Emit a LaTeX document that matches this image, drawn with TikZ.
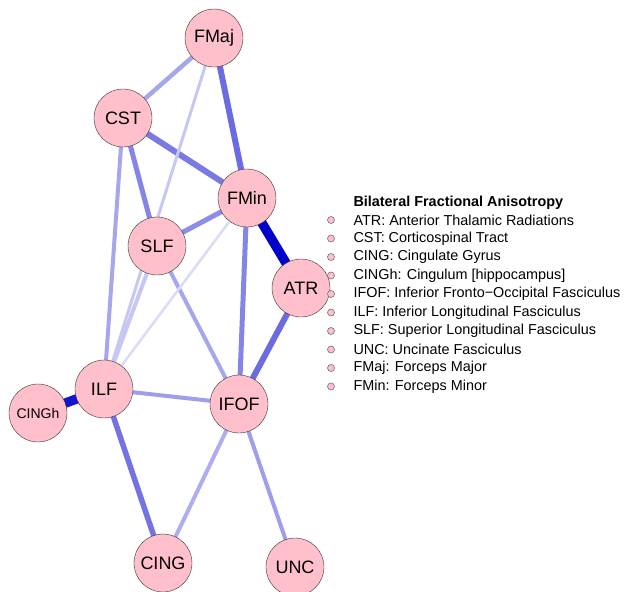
\documentclass[tikz,border=0pt]{standalone}
\usepackage{fontspec}
\setmainfont{Liberation Sans}
\usetikzlibrary{backgrounds}
\definecolor{edgeblue}{RGB}{0,0,205}
\definecolor{tractpink}{RGB}{255,192,203}
\begin{document}
\begin{tikzpicture}[x=1pt,y=-1pt,
    tract/.style={circle,draw=black!80,fill=tractpink,minimum size=58pt,inner sep=0pt,font=\fontsize{18}{20}\selectfont},
    link/.style 2 args={edgeblue!#1!white,line width=#2pt},
    dot/.style={circle,draw=black!55,fill=tractpink,minimum size=7pt,inner sep=0pt,line width=0.6pt}]
    \useasboundingbox (0,0) rectangle (627,592);
    \node[tract] (FMaj) at (214,38) {FMaj};
    \node[tract] (CST) at (123,118) {CST};
    \node[tract] (FMin) at (247,198) {FMin};
    \node[tract] (SLF) at (157,246) {SLF};
    \node[tract] (ATR) at (301,288) {ATR};
    \node[tract] (ILF) at (104,389) {ILF};
    \node[tract,font=\fontsize{14}{16}\selectfont] (CINGh) at (38,413) {CINGh};
    \node[tract] (IFOF) at (239,404) {IFOF};
    \node[tract] (CING) at (163,563) {CING};
    \node[tract] (UNC) at (295,567) {UNC};
    \begin{scope}[on background layer]
        \draw[link={100}{9.5}] (FMin.center) -- (ATR.center);
        \draw[link={92}{9.5}] (ILF.center) -- (CINGh.center);
        \draw[link={58}{6}] (FMaj.center) -- (FMin.center);
        \draw[link={58}{6}] (ATR.center) -- (IFOF.center);
        \draw[link={52}{6}] (CST.center) -- (FMin.center);
        \draw[link={55}{5.5}] (ILF.center) -- (CING.center);
        \draw[link={48}{5}] (FMin.center) -- (IFOF.center);
        \draw[link={48}{5}] (CST.center) -- (SLF.center);
        \draw[link={45}{5}] (FMin.center) -- (SLF.center);
        \draw[link={35}{4.5}] (FMaj.center) -- (CST.center);
        \draw[link={35}{4}] (CST.center) -- (ILF.center);
        \draw[link={35}{4}] (SLF.center) -- (IFOF.center);
        \draw[link={38}{4}] (ILF.center) -- (IFOF.center);
        \draw[link={38}{4}] (IFOF.center) -- (UNC.center);
        \draw[link={32}{4}] (IFOF.center) -- (CING.center);
        \draw[link={22}{4}] (SLF.center) -- (ILF.center);
        \draw[link={22}{3}] (FMaj.center) -- (ILF.center);
        \draw[link={14}{2.5}] (FMin.center) -- (ILF.center);
    \end{scope}
    % legend
    \node[anchor=west,font=\fontsize{14.4}{16}\selectfont\bfseries] (title) at (350,203) {Bilateral Fractional Anisotropy};
    \foreach \name [count=\i] in {ATR: Anterior Thalamic Radiations, CST: Corticospinal Tract,
        CING: Cingulate Gyrus, CINGh: Cingulum [hippocampus],
        IFOF: Inferior Fronto−Occipital Fasciculus, ILF: Inferior Longitudinal Fasciculus,
        SLF: Superior Longitudinal Fasciculus, UNC: Uncinate Fasciculus,
        FMaj: Forceps Major, FMin: Forceps Minor} {
        \node[dot] (dot\i) at (331,{201.5+18.5*\i}) {};
        \node[anchor=west,font=\fontsize{14.4}{16}\selectfont] (leg\i) at (350,{201.5+18.5*\i}) {\name};
    }
\end{tikzpicture}
\end{document}
